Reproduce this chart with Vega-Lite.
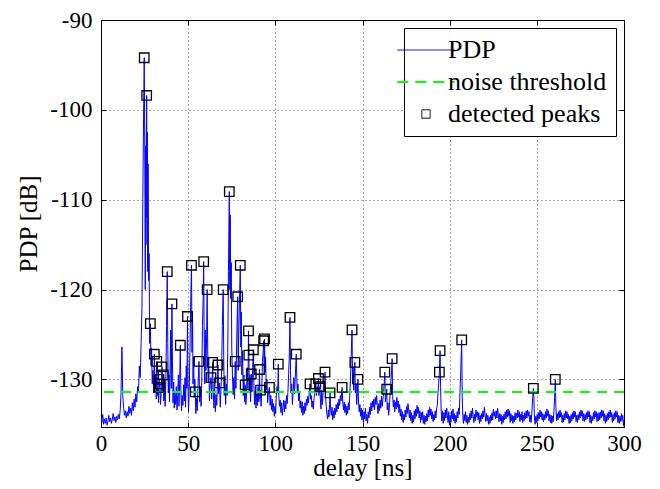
{
"$schema": "https://vega.github.io/schema/vega-lite/v6.json",
"width": 523, "height": 407,
"autosize": {"type": "none"},
"padding": {"left": 101, "top": 20, "right": 36, "bottom": 62},
"background": "white",
"datasets": {
"pdp": [
{"t":0,"p":-134.2},{"t":0.5,"p":-134.8},{"t":1,"p":-133.9},{"t":1.5,"p":-135.0},{"t":2,"p":-134.4},{"t":2.5,"p":-134.9},{"t":3,"p":-134.3},{"t":3.5,"p":-135.1},{"t":4,"p":-134.6},{"t":4.5,"p":-134.0},{"t":5,"p":-134.7},{"t":5.5,"p":-134.3},{"t":6,"p":-134.9},{"t":6.5,"p":-134.4},{"t":7,"p":-133.8},{"t":7.5,"p":-134.6},{"t":8,"p":-134.2},{"t":8.5,"p":-134.8},{"t":9,"p":-134.1},{"t":9.5,"p":-134.5},{"t":10,"p":-133.9},{"t":10.5,"p":-134.4},{"t":11,"p":-133.5},{"t":11.5,"p":-131.5},{"t":12,"p":-126.4},{"t":12.5,"p":-131.8},{"t":13,"p":-133.2},{"t":13.5,"p":-134.0},{"t":14,"p":-133.5},{"t":14.5,"p":-134.3},{"t":15,"p":-133.6},{"t":15.5,"p":-134.1},{"t":16,"p":-133.0},{"t":16.5,"p":-133.8},{"t":17,"p":-133.2},{"t":17.5,"p":-134.0},{"t":18,"p":-132.6},{"t":18.5,"p":-133.5},{"t":19,"p":-132.2},{"t":19.5,"p":-133.1},{"t":20,"p":-131.6},{"t":20.5,"p":-132.5},{"t":21,"p":-130.8},{"t":21.5,"p":-131.5},{"t":22,"p":-128.5},{"t":22.5,"p":-129.8},{"t":23,"p":-126.0},{"t":23.5,"p":-122.0},{"t":24,"p":-110.0},{"t":24.4,"p":-101.0},{"t":24.8,"p":-94.2},{"t":25.1,"p":-104},{"t":25.4,"p":-120},{"t":25.6,"p":-104},{"t":25.8,"p":-115},{"t":26.0,"p":-103.5},{"t":26.2,"p":-98.4},{"t":26.4,"p":-112},{"t":26.6,"p":-102.5},{"t":26.8,"p":-118},{"t":27.0,"p":-106},
{"t":27.3,"p":-119},{"t":27.6,"p":-116},{"t":27.9,"p":-126},{"t":28.3,"p":-123.8},{"t":28.7,"p":-128.5},{"t":29.0,"p":-126.5},{"t":29.4,"p":-130.5},{"t":29.8,"p":-129},{"t":30.2,"p":-131.5},{"t":30.6,"p":-127.2},{"t":31.0,"p":-131},{"t":31.4,"p":-129.5},{"t":31.7,"p":-132.2},{"t":32.0,"p":-128.0},{"t":32.4,"p":-131.8},{"t":32.8,"p":-131},{"t":33.0,"p":-132.6},{"t":33.3,"p":-130.0},{"t":33.5,"p":-130.9},{"t":33.8,"p":-130.5},{"t":34.1,"p":-132.8},{"t":34.5,"p":-131.6},{"t":35.0,"p":-128.6},{"t":35.3,"p":-131.5},{"t":35.7,"p":-129.5},{"t":36.0,"p":-132.4},{"t":36.4,"p":-131.2},{"t":36.8,"p":-133.0},{"t":37.2,"p":-130.0},{"t":37.6,"p":-124},{"t":38.0,"p":-118.0},{"t":38.3,"p":-126},{"t":38.6,"p":-131.5},{"t":39.0,"p":-129.5},{"t":39.3,"p":-132.5},{"t":39.7,"p":-128},{"t":40.0,"p":-124.5},{"t":40.3,"p":-131},{"t":40.7,"p":-121.6},{"t":41.0,"p":-128},{"t":41.3,"p":-132.6},{"t":41.7,"p":-130.3},{"t":42.0,"p":-133.2},{"t":42.4,"p":-131.5},{"t":42.8,"p":-132.8},{"t":43.2,"p":-130.8},{"t":43.6,"p":-133.4},{"t":44.0,"p":-131.8},{"t":44.4,"p":-129.5},{"t":44.7,"p":-133.0},{"t":45.1,"p":-130.5},{"t":45.5,"p":-126.2},{"t":45.8,"p":-131.2},{"t":46.2,"p":-133.5},{"t":46.6,"p":-131.8},{"t":47.0,"p":-132.9},{"t":47.4,"p":-130.6},{"t":47.8,"p":-132.4},{"t":48.2,"p":-129.8},{"t":48.5,"p":-133.1},{"t":48.9,"p":-128.5},{"t":49.3,"p":-131},{"t":49.6,"p":-123.0},{"t":49.9,"p":-130.5},{"t":50.2,"p":-133.6},{"t":50.6,"p":-131.2},{"t":51.0,"p":-127},{"t":51.4,"p":-122},{"t":51.9,"p":-117.3},{"t":52.2,"p":-127},{"t":52.5,"p":-122.5},{"t":52.8,"p":-130.5},{"t":53.1,"p":-127.5},{"t":53.5,"p":-132},{"t":53.8,"p":-130},{"t":54.1,"p":-131.4},{"t":54.4,"p":-133.8},{"t":54.8,"p":-132.1},{"t":55.2,"p":-133.5},{"t":55.6,"p":-131},{"t":56.2,"p":-128.0},{"t":56.6,"p":-132.5},{"t":57.0,"p":-130.8},{"t":57.4,"p":-133.0},{"t":57.8,"p":-130.2},{"t":58.2,"p":-124},{"t":58.6,"p":-121},{"t":58.9,"p":-116.9},{"t":59.2,"p":-126},{"t":59.5,"p":-130.5},{"t":59.8,"p":-124.5},{"t":60.2,"p":-129},{"t":60.6,"p":-125},{"t":60.9,"p":-120.0},{"t":61.2,"p":-126.5},{"t":61.5,"p":-130.4},{"t":61.8,"p":-127.5},{"t":62.2,"p":-132.4},{"t":62.6,"p":-130.6},{"t":63.1,"p":-129.8},{"t":63.5,"p":-132.2},{"t":64.0,"p":-128.1},{"t":64.4,"p":-131.5},{"t":64.8,"p":-133.2},{"t":65.2,"p":-131.0},{"t":65.6,"p":-133.6},{"t":66.0,"p":-131.7},{"t":66.4,"p":-132.9},{"t":67.1,"p":-128.4},{"t":67.5,"p":-131.6},{"t":68.0,"p":-130.4},{"t":68.4,"p":-133.1},{"t":68.8,"p":-131.2},{"t":69.2,"p":-129},{"t":69.6,"p":-124},{"t":70.1,"p":-120.0},{"t":70.4,"p":-127.5},{"t":70.7,"p":-131.8},{"t":71.1,"p":-129.6},{"t":71.5,"p":-132.8},{"t":71.9,"p":-130.5},{"t":72.3,"p":-131.8},{"t":72.7,"p":-127},{"t":73.1,"p":-118},{"t":73.6,"p":-109.1},{"t":73.9,"p":-120},{"t":74.1,"p":-111.7},{"t":74.4,"p":-121},{"t":74.7,"p":-117},{"t":75.0,"p":-126.5},{"t":75.4,"p":-129.5},{"t":75.8,"p":-131.7},{"t":76.2,"p":-129.8},{"t":76.6,"p":-132.2},{"t":77.0,"p":-128.0},{"t":77.4,"p":-131},{"t":77.8,"p":-126},{"t":78.4,"p":-120.8},{"t":78.7,"p":-129},{"t":79.0,"p":-125},{"t":79.4,"p":-121.5},{"t":79.9,"p":-117.3},{"t":80.2,"p":-126.4},{"t":80.5,"p":-122.5},{"t":80.8,"p":-129.5},{"t":81.2,"p":-126.8},{"t":81.6,"p":-131.8},{"t":82.0,"p":-129.5},{"t":82.4,"p":-132.5},{"t":82.7,"p":-130.6},{"t":83.1,"p":-132.8},{"t":83.5,"p":-131.5},{"t":83.9,"p":-128.7},{"t":84.3,"p":-131},{"t":84.6,"p":-124.6},{"t":84.8,"p":-127.3},{"t":85.1,"p":-131.5},{"t":85.4,"p":-129.5},{"t":85.8,"p":-132.5},{"t":86.2,"p":-129.4},{"t":86.6,"p":-131.4},{"t":87.0,"p":-128.7},{"t":87.4,"p":-126.7},{"t":87.7,"p":-130.5},{"t":88.1,"p":-132.8},{"t":88.5,"p":-131.3},{"t":88.9,"p":-133.2},{"t":89.3,"p":-131.6},{"t":89.7,"p":-132.9},{"t":90.1,"p":-130.8},{"t":90.5,"p":-132.5},{"t":90.9,"p":-128.9},{"t":91.2,"p":-132.2},{"t":91.5,"p":-131.2},{"t":91.8,"p":-133.0},{"t":92.2,"p":-131.3},{"t":92.6,"p":-128},{"t":93.0,"p":-127},{"t":93.3,"p":-125.7},{"t":93.6,"p":-128.5},{"t":93.8,"p":-125.5},{"t":94.1,"p":-129.2},{"t":94.4,"p":-127.5},{"t":94.8,"p":-131.2},{"t":95.2,"p":-130},{"t":95.6,"p":-132.6},{"t":96.0,"p":-131.5},{"t":96.6,"p":-130.9},{"t":97.0,"p":-132.9},{"t":97.4,"p":-131.8},{"t":97.8,"p":-133.4},{"t":98.2,"p":-132.2},{"t":98.6,"p":-133.6},{"t":99.0,"p":-132.7},{"t":99.4,"p":-134.1},{"t":99.8,"p":-133},{"t":100.2,"p":-133.8},{"t":100.6,"p":-131.5},{"t":101.0,"p":-130.8},{"t":101.4,"p":-131.5},{"t":101.7,"p":-128.3},{"t":102.0,"p":-131.8},{"t":102.4,"p":-133.0},{"t":102.8,"p":-132.3},{"t":103.2,"p":-133.7},{"t":103.6,"p":-132.6},{"t":104.0,"p":-134.0},{"t":104.4,"p":-133.1},{"t":104.8,"p":-132.3},{"t":105.2,"p":-133.6},{"t":105.6,"p":-132.4},{"t":106.0,"p":-133.3},{"t":106.4,"p":-131.8},{"t":106.8,"p":-132.7},{"t":107.2,"p":-131.5},{"t":107.6,"p":-129.5},{"t":108.0,"p":-127.5},{"t":108.4,"p":-123.1},{"t":108.7,"p":-129},{"t":109.0,"p":-131.5},{"t":109.4,"p":-130.5},{"t":109.8,"p":-132.8},{"t":110.2,"p":-131.4},{"t":110.6,"p":-129.8},{"t":111.0,"p":-131.6},{"t":111.4,"p":-130},{"t":111.7,"p":-128.5},{"t":112.0,"p":-127.2},{"t":112.3,"p":-129.8},{"t":112.6,"p":-131.5},{"t":113.0,"p":-130.5},{"t":113.4,"p":-132.4},{"t":113.8,"p":-131.5},{"t":114.2,"p":-133.2},{"t":114.6,"p":-132.4},{"t":115.0,"p":-133.7},{"t":115.4,"p":-132.5},{"t":115.8,"p":-134.0},{"t":116.2,"p":-133.0},{"t":116.6,"p":-133.8},{"t":117.0,"p":-132.6},{"t":117.4,"p":-133.5},{"t":117.8,"p":-132.2},{"t":118.2,"p":-132.9},{"t":118.6,"p":-131.9},{"t":119.0,"p":-132.6},{"t":119.4,"p":-131.6},{"t":119.9,"p":-130.5},{"t":120.2,"p":-132.2},{"t":120.6,"p":-131.8},{"t":121.0,"p":-133.1},{"t":121.4,"p":-132.4},{"t":121.8,"p":-133.3},{"t":122.2,"p":-132.1},{"t":122.6,"p":-131.6},{"t":123.2,"p":-130.5},{"t":123.6,"p":-131.8},{"t":124.0,"p":-130.8},{"t":124.3,"p":-131.5},{"t":124.7,"p":-129.9},{"t":125.0,"p":-131.8},{"t":125.3,"p":-131.2},{"t":125.6,"p":-130.8},{"t":125.9,"p":-132.6},{"t":126.2,"p":-133.3},{"t":126.6,"p":-131.2},{"t":127.0,"p":-132.8},{"t":127.4,"p":-131.5},{"t":127.8,"p":-130.4},{"t":128.1,"p":-131.4},{"t":128.5,"p":-129.2},{"t":128.8,"p":-131.8},{"t":129.2,"p":-133.0},{"t":129.6,"p":-133.9},{"t":130.0,"p":-134.4},{"t":130.4,"p":-133.4},{"t":130.8,"p":-134.2},{"t":131.1,"p":-132.8},{"t":131.4,"p":-131.5},{"t":131.7,"p":-133.2},{"t":132.1,"p":-134.0},{"t":132.5,"p":-133.1},{"t":132.9,"p":-134.5},{"t":133.3,"p":-133.5},{"t":133.7,"p":-134.3},{"t":134.1,"p":-133.2},{"t":134.5,"p":-133.9},{"t":134.9,"p":-132.8},{"t":135.3,"p":-133.6},{"t":135.7,"p":-132.6},{"t":136.1,"p":-133.3},{"t":136.5,"p":-132.2},{"t":136.9,"p":-132.9},{"t":137.3,"p":-131.8},{"t":137.7,"p":-132.4},{"t":138.3,"p":-130.9},{"t":138.7,"p":-132.6},{"t":139.1,"p":-133.4},{"t":139.5,"p":-132.5},{"t":139.9,"p":-133.7},{"t":140.3,"p":-132.8},{"t":140.7,"p":-134.0},{"t":141.1,"p":-133.0},{"t":141.5,"p":-133.8},{"t":141.9,"p":-132.6},{"t":142.3,"p":-133.4},{"t":142.7,"p":-131.8},{"t":143.1,"p":-130.0},{"t":143.5,"p":-127.5},{"t":144.0,"p":-124.5},{"t":144.3,"p":-130.5},{"t":144.6,"p":-128.6},{"t":145.0,"p":-131.2},{"t":145.3,"p":-129.2},{"t":145.6,"p":-128.1},{"t":145.9,"p":-131.5},{"t":146.3,"p":-130.5},{"t":146.7,"p":-132.8},{"t":147.0,"p":-131.6},{"t":147.4,"p":-130.0},{"t":147.7,"p":-132.4},{"t":148.1,"p":-133.6},{"t":148.5,"p":-132.8},{"t":148.9,"p":-134.1},{"t":149.3,"p":-133.2},{"t":149.7,"p":-134.5},{"t":150.1,"p":-133.4},{"t":150.5,"p":-134.8},{"t":150.9,"p":-133.6},{"t":151.3,"p":-134.4},{"t":151.7,"p":-133.2},{"t":152.1,"p":-134.6},{"t":152.5,"p":-133.9},{"t":152.9,"p":-134.9},{"t":153.3,"p":-133.6},{"t":153.7,"p":-134.3},{"t":154.1,"p":-133.1},{"t":154.5,"p":-133.9},{"t":154.9,"p":-132.6},{"t":155.3,"p":-133.5},{"t":155.7,"p":-132.4},{"t":156.1,"p":-133.1},{"t":156.5,"p":-132.2},{"t":156.9,"p":-133.4},{"t":157.3,"p":-132.0},{"t":157.7,"p":-132.8},{"t":158.1,"p":-131.8},{"t":158.5,"p":-132.9},{"t":158.9,"p":-133.8},{"t":159.3,"p":-132.7},{"t":159.7,"p":-133.5},{"t":160.1,"p":-132.3},{"t":160.5,"p":-133.2},{"t":160.9,"p":-131.9},{"t":161.3,"p":-133.0},{"t":161.7,"p":-132.2},{"t":162.1,"p":-131.4},{"t":162.5,"p":-130.3},{"t":162.8,"p":-129.2},{"t":163.1,"p":-132.5},{"t":163.5,"p":-132.0},{"t":163.9,"p":-131.1},{"t":164.2,"p":-133.4},{"t":164.6,"p":-132.6},{"t":165.0,"p":-134.0},{"t":165.4,"p":-133.2},{"t":165.8,"p":-131.8},{"t":166.2,"p":-130.5},{"t":166.6,"p":-129.4},{"t":167.0,"p":-127.7},{"t":167.3,"p":-131.8},{"t":167.7,"p":-133.1},{"t":168.1,"p":-132.3},{"t":168.5,"p":-133.6},{"t":168.9,"p":-132.5},{"t":169.3,"p":-133.3},{"t":169.7,"p":-132.0},{"t":170.1,"p":-133.1},{"t":170.5,"p":-132.4},{"t":170.9,"p":-133.7},{"t":171.3,"p":-132.8},{"t":171.7,"p":-134.1},{"t":172.1,"p":-133.3},{"t":172.5,"p":-134.5},{"t":172.9,"p":-133.6},{"t":173.3,"p":-134.8},{"t":173.7,"p":-133.9},{"t":174.1,"p":-134.5},{"t":174.5,"p":-133.4},{"t":174.9,"p":-134.2},{"t":175.3,"p":-133.0},{"t":175.7,"p":-133.8},{"t":176.1,"p":-132.7},{"t":176.5,"p":-133.5},{"t":176.9,"p":-134.3},{"t":177.3,"p":-133.4},{"t":177.7,"p":-134.6},{"t":178.1,"p":-133.7},{"t":178.5,"p":-134.9},{"t":178.9,"p":-134.0},{"t":179.3,"p":-134.7},{"t":179.7,"p":-133.5},{"t":180.1,"p":-134.4},{"t":180.5,"p":-133.3},{"t":180.9,"p":-134.1},{"t":181.3,"p":-132.9},{"t":181.7,"p":-133.8},{"t":182.1,"p":-133.1},{"t":182.5,"p":-134.3},{"t":182.9,"p":-133.5},{"t":183.3,"p":-134.8},{"t":183.7,"p":-133.7},{"t":184.1,"p":-134.5},{"t":184.5,"p":-133.6},{"t":184.9,"p":-134.9},{"t":185.3,"p":-134.0},{"t":185.7,"p":-135.0},{"t":186.1,"p":-134.1},{"t":186.5,"p":-134.7},{"t":186.9,"p":-133.8},{"t":187.3,"p":-134.6},{"t":187.7,"p":-133.4},{"t":188.1,"p":-134.2},{"t":188.5,"p":-133.1},{"t":188.9,"p":-134.0},{"t":189.3,"p":-133.3},{"t":189.7,"p":-134.4},{"t":190.1,"p":-133.6},{"t":190.5,"p":-134.7},{"t":190.9,"p":-133.9},{"t":191.3,"p":-134.5},{"t":191.7,"p":-133.5},{"t":192.1,"p":-134.3},{"t":192.5,"p":-133.3},{"t":192.9,"p":-132.9},{"t":193.3,"p":-131.5},{"t":193.7,"p":-130.5},{"t":194.1,"p":-129.2},{"t":194.5,"p":-126.8},{"t":194.8,"p":-130.8},{"t":195.1,"p":-133.4},{"t":195.5,"p":-134.6},{"t":195.9,"p":-133.5},{"t":196.3,"p":-134.9},{"t":196.7,"p":-133.7},{"t":197.1,"p":-134.6},{"t":197.5,"p":-133.4},{"t":197.9,"p":-134.3},{"t":198.3,"p":-133.2},{"t":198.7,"p":-134.0},{"t":199.1,"p":-134.8},{"t":199.5,"p":-133.6},{"t":199.9,"p":-135.1},{"t":200.3,"p":-134.0},{"t":200.7,"p":-134.8},{"t":201.1,"p":-133.5},{"t":201.5,"p":-134.4},{"t":201.9,"p":-133.3},{"t":202.3,"p":-134.6},{"t":202.7,"p":-133.8},{"t":203.1,"p":-134.9},{"t":203.5,"p":-134.0},{"t":203.9,"p":-134.7},{"t":204.3,"p":-133.6},{"t":204.7,"p":-134.3},{"t":205.1,"p":-133.2},{"t":205.5,"p":-133.9},{"t":205.9,"p":-131.5},{"t":206.3,"p":-129.5},{"t":206.9,"p":-125.6},{"t":207.2,"p":-131.8},{"t":207.5,"p":-134.0},{"t":207.9,"p":-134.9},{"t":208.3,"p":-133.9},{"t":208.7,"p":-134.6},{"t":209.1,"p":-133.6},{"t":209.5,"p":-134.8},{"t":209.9,"p":-134.0},{"t":210.3,"p":-135.0},{"t":210.7,"p":-134.2},{"t":211.1,"p":-134.8},{"t":211.5,"p":-133.8},{"t":211.9,"p":-134.5},{"t":212.3,"p":-133.5},{"t":212.7,"p":-134.3},{"t":213.1,"p":-133.2},{"t":213.5,"p":-134.1},{"t":213.9,"p":-134.8},{"t":214.3,"p":-133.9},{"t":214.7,"p":-134.6},{"t":215.1,"p":-133.4},{"t":215.5,"p":-134.2},{"t":215.9,"p":-133.6},{"t":216.3,"p":-134.5},{"t":216.7,"p":-133.7},{"t":217.1,"p":-134.9},{"t":217.5,"p":-134.0},{"t":217.9,"p":-134.7},{"t":218.3,"p":-133.8},{"t":218.7,"p":-134.4},{"t":219.1,"p":-133.5},{"t":219.5,"p":-134.2},{"t":219.9,"p":-133.1},{"t":220.3,"p":-133.9},{"t":220.7,"p":-134.7},{"t":221.1,"p":-133.8},{"t":221.5,"p":-134.6},{"t":221.9,"p":-134.0},{"t":222.3,"p":-135.0},{"t":222.7,"p":-134.2},{"t":223.1,"p":-134.9},{"t":223.5,"p":-134.0},{"t":223.9,"p":-134.6},{"t":224.3,"p":-133.7},{"t":224.7,"p":-134.5},{"t":225.1,"p":-133.3},{"t":225.5,"p":-134.1},{"t":225.9,"p":-133.6},{"t":226.3,"p":-134.4},{"t":226.7,"p":-133.5},{"t":227.1,"p":-134.3},{"t":227.5,"p":-133.2},{"t":227.9,"p":-133.9},{"t":228.3,"p":-134.7},{"t":228.7,"p":-133.8},{"t":229.1,"p":-134.6},{"t":229.5,"p":-133.9},{"t":229.9,"p":-135.0},{"t":230.3,"p":-134.1},{"t":230.7,"p":-134.8},{"t":231.1,"p":-133.9},{"t":231.5,"p":-134.5},{"t":231.9,"p":-133.6},{"t":232.3,"p":-134.4},{"t":232.7,"p":-133.4},{"t":233.1,"p":-134.2},{"t":233.5,"p":-133.3},{"t":233.9,"p":-134.1},{"t":234.3,"p":-133.5},{"t":234.7,"p":-134.8},{"t":235.1,"p":-133.8},{"t":235.5,"p":-134.6},{"t":235.9,"p":-134.0},{"t":236.3,"p":-134.9},{"t":236.7,"p":-134.1},{"t":237.1,"p":-134.7},{"t":237.5,"p":-133.7},{"t":237.9,"p":-134.5},{"t":238.3,"p":-133.8},{"t":238.7,"p":-134.3},{"t":239.1,"p":-133.4},{"t":239.5,"p":-134.2},{"t":239.9,"p":-133.6},{"t":240.3,"p":-134.7},{"t":240.7,"p":-133.9},{"t":241.1,"p":-134.5},{"t":241.5,"p":-133.6},{"t":241.9,"p":-134.8},{"t":242.3,"p":-134.0},{"t":242.7,"p":-134.6},{"t":243.1,"p":-133.7},{"t":243.5,"p":-134.4},{"t":243.9,"p":-133.5},{"t":244.3,"p":-134.3},{"t":244.7,"p":-133.4},{"t":245.1,"p":-134.1},{"t":245.5,"p":-133.6},{"t":245.9,"p":-134.7},{"t":246.3,"p":-134.0},{"t":246.7,"p":-134.8},{"t":247.1,"p":-133.8},{"t":247.5,"p":-132.5},{"t":248.0,"p":-131.0},{"t":248.3,"p":-132.0},{"t":248.6,"p":-134.2},{"t":249.0,"p":-135.0},{"t":249.4,"p":-134.1},{"t":249.8,"p":-134.8},{"t":250.2,"p":-133.9},{"t":250.6,"p":-134.6},{"t":251.0,"p":-133.7},{"t":251.4,"p":-134.4},{"t":251.8,"p":-133.4},{"t":252.2,"p":-134.2},{"t":252.6,"p":-133.6},{"t":253.0,"p":-134.5},{"t":253.4,"p":-133.8},{"t":253.8,"p":-134.7},{"t":254.2,"p":-133.9},{"t":254.6,"p":-134.5},{"t":255.0,"p":-133.6},{"t":255.4,"p":-134.3},{"t":255.8,"p":-133.3},{"t":256.2,"p":-134.1},{"t":256.6,"p":-133.5},{"t":257.0,"p":-134.6},{"t":257.4,"p":-133.9},{"t":257.8,"p":-134.8},{"t":258.2,"p":-134.0},{"t":258.6,"p":-134.9},{"t":259.0,"p":-134.1},{"t":259.4,"p":-134.7},{"t":259.8,"p":-133.5},{"t":260.2,"p":-132.0},{"t":260.6,"p":-130.0},{"t":260.9,"p":-133.0},{"t":261.3,"p":-134.6},{"t":261.7,"p":-133.8},{"t":262.1,"p":-134.5},{"t":262.5,"p":-133.6},{"t":262.9,"p":-134.3},{"t":263.3,"p":-133.4},{"t":263.7,"p":-134.2},{"t":264.1,"p":-133.7},{"t":264.5,"p":-134.8},{"t":264.9,"p":-134.0},{"t":265.3,"p":-134.7},{"t":265.7,"p":-133.8},{"t":266.1,"p":-134.5},{"t":266.5,"p":-133.5},{"t":266.9,"p":-134.3},{"t":267.3,"p":-133.6},{"t":267.7,"p":-134.4},{"t":268.1,"p":-133.9},{"t":268.5,"p":-134.9},{"t":268.9,"p":-134.1},{"t":269.3,"p":-134.8},{"t":269.7,"p":-133.9},{"t":270.1,"p":-134.6},{"t":270.5,"p":-133.7},{"t":270.9,"p":-134.4},{"t":271.3,"p":-133.5},{"t":271.7,"p":-134.2},{"t":272.1,"p":-133.6},{"t":272.5,"p":-134.7},{"t":272.9,"p":-134.0},{"t":273.3,"p":-134.8},{"t":273.7,"p":-133.9},{"t":274.1,"p":-134.5},{"t":274.5,"p":-133.6},{"t":274.9,"p":-134.3},{"t":275.3,"p":-133.4},{"t":275.7,"p":-134.1},{"t":276.1,"p":-133.5},{"t":276.5,"p":-134.6},{"t":276.9,"p":-133.8},{"t":277.3,"p":-134.7},{"t":277.7,"p":-133.9},{"t":278.1,"p":-134.5},{"t":278.5,"p":-133.7},{"t":278.9,"p":-134.4},{"t":279.3,"p":-133.5},{"t":279.7,"p":-134.2},{"t":280.1,"p":-133.6},{"t":280.5,"p":-134.8},{"t":280.9,"p":-134.0},{"t":281.3,"p":-134.9},{"t":281.7,"p":-134.1},{"t":282.1,"p":-134.6},{"t":282.5,"p":-133.7},{"t":282.9,"p":-134.4},{"t":283.3,"p":-133.5},{"t":283.7,"p":-134.2},{"t":284.1,"p":-133.6},{"t":284.5,"p":-134.7},{"t":284.9,"p":-133.8},{"t":285.3,"p":-134.6},{"t":285.7,"p":-133.7},{"t":286.1,"p":-134.5},{"t":286.5,"p":-133.6},{"t":286.9,"p":-134.3},{"t":287.3,"p":-133.4},{"t":287.7,"p":-134.1},{"t":288.1,"p":-133.5},{"t":288.5,"p":-134.6},{"t":288.9,"p":-133.8},{"t":289.3,"p":-134.9},{"t":289.7,"p":-134.0},{"t":290.1,"p":-134.7},{"t":290.5,"p":-133.8},{"t":290.9,"p":-134.5},{"t":291.3,"p":-133.6},{"t":291.7,"p":-134.3},{"t":292.1,"p":-133.4},{"t":292.5,"p":-134.2},{"t":292.9,"p":-133.7},{"t":293.3,"p":-134.8},{"t":293.7,"p":-133.9},{"t":294.1,"p":-134.6},{"t":294.5,"p":-133.7},{"t":294.9,"p":-134.4},{"t":295.3,"p":-133.5},{"t":295.7,"p":-134.2},{"t":296.1,"p":-133.6},{"t":296.5,"p":-134.8},{"t":296.9,"p":-134.0},{"t":297.3,"p":-134.9},{"t":297.7,"p":-134.1},{"t":298.1,"p":-134.7},{"t":298.5,"p":-133.8},{"t":298.9,"p":-134.6},{"t":299.3,"p":-134.0},{"t":299.7,"p":-135.2},{"t":300.0,"p":-134.5}
],
"peaks": [
{"t":24.8,"p":-94.2},{"t":26.2,"p":-98.4},{"t":28.3,"p":-123.8},{"t":30.6,"p":-127.2},{"t":32.0,"p":-128.0},{"t":33.3,"p":-130.0},{"t":33.5,"p":-130.9},{"t":33.8,"p":-130.5},{"t":35.0,"p":-128.6},{"t":35.7,"p":-129.5},{"t":38.0,"p":-118.0},{"t":40.7,"p":-121.6},{"t":45.5,"p":-126.2},{"t":49.6,"p":-123.0},{"t":51.9,"p":-117.3},{"t":54.1,"p":-131.4},{"t":56.2,"p":-128.0},{"t":58.9,"p":-116.9},{"t":60.9,"p":-120.0},{"t":63.1,"p":-129.8},{"t":64.0,"p":-128.1},{"t":67.1,"p":-128.4},{"t":68.0,"p":-130.4},{"t":70.1,"p":-120.0},{"t":73.6,"p":-109.1},{"t":77.0,"p":-128.0},{"t":78.4,"p":-120.8},{"t":79.9,"p":-117.3},{"t":82.7,"p":-130.6},{"t":84.6,"p":-124.6},{"t":84.8,"p":-127.3},{"t":86.2,"p":-129.4},{"t":87.4,"p":-126.7},{"t":90.9,"p":-128.9},{"t":91.5,"p":-131.2},{"t":93.3,"p":-125.7},{"t":93.8,"p":-125.5},{"t":96.6,"p":-130.9},{"t":101.7,"p":-128.3},{"t":108.4,"p":-123.1},{"t":112.0,"p":-127.2},{"t":119.9,"p":-130.5},{"t":123.2,"p":-130.5},{"t":124.7,"p":-129.9},{"t":125.6,"p":-130.8},{"t":128.5,"p":-129.2},{"t":131.4,"p":-131.5},{"t":138.3,"p":-130.9},{"t":144.0,"p":-124.5},{"t":145.6,"p":-128.1},{"t":147.4,"p":-130.0},{"t":162.8,"p":-129.2},{"t":163.9,"p":-131.1},{"t":167.0,"p":-127.7},{"t":194.1,"p":-129.2},{"t":194.5,"p":-126.8},{"t":206.9,"p":-125.6},{"t":248.0,"p":-131.0},{"t":260.6,"p":-130.0}
]
},
"layer": [
{
"data": {"name": "pdp"},
"mark": {"type": "line", "strokeWidth": 1, "clip": true},
"encoding": {
"x": {"field": "t", "type": "quantitative", "scale": {"domain": [0, 300], "nice": false},
 "axis": {"title": "delay [ns]", "values": [0, 50, 100, 150, 200, 250, 300], "grid": true, "labelPadding": 10, "titlePadding": 0, "labelFlush": false, "labelOverlap": false, "labelExpr": "'' + datum.value"}},
"y": {"field": "p", "type": "quantitative", "scale": {"domain": [-135.3, -90], "nice": false, "zero": false},
 "axis": {"title": "PDP [dB]", "values": [-130, -120, -110, -100, -90], "grid": true, "labelPadding": 14, "titlePadding": 8, "labelFlush": false, "labelOverlap": false, "labelExpr": "'' + datum.value"}},
"color": {"datum": "PDP", "type": "nominal",
 "scale": {"domain": ["PDP", "noise threshold", "detected peaks"], "range": ["#0000ff", "#00ff00", "#000000"]},
 "legend": {"title": null, "orient": "top-right", "offset": 8, "padding": 9,
  "strokeColor": "black", "fillColor": "white",
  "labelFont": "Liberation Serif, Times New Roman, serif", "labelFontSize": 26, "labelColor": "black", "labelOffset": 9,
  "symbolSize": 2500, "symbolType": "stroke", "symbolStrokeWidth": 1, "rowPadding": 6,
  "encode": {"symbols": {"update": {
   "shape": {"signal": "datum.value === 'detected peaks' ? 'square' : 'stroke'"},
   "size": {"signal": "datum.value === 'detected peaks' ? 70 : 3300"},
   "strokeDash": {"signal": "datum.value === 'noise threshold' ? [11,7] : [1,0]"},
   "strokeWidth": {"signal": "datum.value === 'noise threshold' ? 2 : 1"},
   "fill": {"value": "transparent"}
  }}}}}
}
},
{
"data": {"values": [{"thr": -131.4}]},
"mark": {"type": "rule", "strokeWidth": 2, "strokeDash": [10, 7]},
"encoding": {
"y": {"field": "thr", "type": "quantitative",
 "axis": {"orient": "right", "labels": false, "title": null, "grid": false, "values": [-130, -120, -110, -100, -90]}},
"color": {"datum": "noise threshold", "type": "nominal"}
}
},
{
"data": {"name": "peaks"},
"mark": {"type": "point", "shape": "square", "filled": false, "size": 90, "strokeWidth": 1.3, "opacity": 1},
"encoding": {
"x": {"field": "t", "type": "quantitative",
 "axis": {"orient": "top", "labels": false, "title": null, "grid": false, "values": [0, 50, 100, 150, 200, 250, 300]}},
"y": {"field": "p", "type": "quantitative", "axis": null},
"color": {"datum": "detected peaks", "type": "nominal"}
}
}
],
"resolve": {"axis": {"x": "independent", "y": "independent"}},
"config": {
"view": {"stroke": "black", "strokeWidth": 1},
"font": "Liberation Serif, Times New Roman, serif",
"axis": {"labelFont": "Liberation Serif, Times New Roman, serif", "labelFontSize": 23, "labelColor": "black",
 "titleFont": "Liberation Serif, Times New Roman, serif", "titleFontSize": 25, "titleFontWeight": "normal", "titleColor": "black",
 "domainColor": "black", "tickColor": "black", "tickSize": -5,
 "gridColor": "#555555", "gridDash": [1, 3], "gridOpacity": 1, "gridWidth": 1}
}
}
